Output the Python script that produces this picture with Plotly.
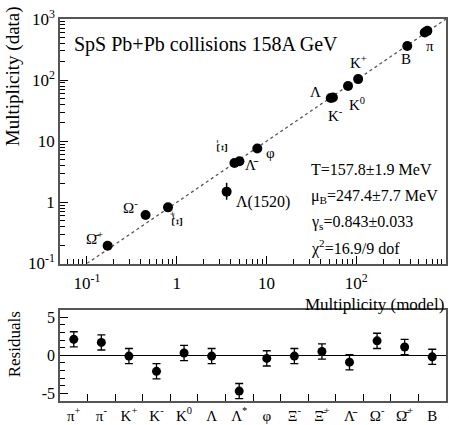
import plotly.graph_objects as go

# ---- data ----
particles = ["π+", "π-", "K+", "K-", "K0", "Λ", "Λ*", "φ", "Ξ-", "Ξbar+", "Λbar", "Ω-", "Ωbar+", "B"]
model = [580, 620, 105, 55, 81, 52, 3.6, 7.9, 4.4, 0.80, 5.0, 0.45, 0.17, 370]
data = [600, 640, 104, 52, 80, 51, 1.5, 7.6, 4.4, 0.83, 4.7, 0.62, 0.195, 362]
data_err_up = [0, 0, 0, 0, 0, 0, 0.6, 0, 0, 0, 0, 0, 0, 0]
data_err_dn = [0, 0, 0, 0, 0, 0, 0.4, 0, 0, 0, 0, 0, 0, 0]
diag = [0.1, 1000]

res_labels = ["π<sup>+</sup>", "π<sup>-</sup>", "K<sup>+</sup>", "K<sup>-</sup>", "K<sup>0</sup>", "Λ",
              "Λ<sup>*</sup>", "φ", "Ξ<sup>-</sup>", "Ξ\u0304<sup>+</sup>", "Λ\u0304", "Ω<sup>-</sup>",
              "Ω\u0304<sup>+</sup>", "B"]
residuals = [2.1, 1.7, -0.1, -2.1, 0.3, -0.1, -4.7, -0.4, -0.1, 0.5, -0.9, 1.9, 1.1, -0.2]
res_err = [1.0] * 14

W, H = 449, 425
ML, MR, MT, MB = 60, 1, 19, 17
PW, PH = W - ML - MR, H - MT - MB

def px(x, y):
    return (x - ML) / PW, (H - MB - y) / PH

FONT = "Liberation Serif, Times New Roman, DejaVu Serif, serif"
FRAME = "#555555"

fig = go.Figure()
fig.add_trace(go.Scatter(x=diag, y=diag, mode="lines",
                         line=dict(color="#555555", width=1.3, dash="3px,3px"),
                         xaxis="x", yaxis="y", hoverinfo="skip"))
fig.add_trace(go.Scatter(x=model, y=data, mode="markers",
                         marker=dict(color="black", size=10),
                         error_y=dict(type="data", array=data_err_up, arrayminus=data_err_dn,
                                      color="black", thickness=1.5, width=0),
                         xaxis="x", yaxis="y"))
fig.add_trace(go.Scatter(x=res_labels, y=residuals, mode="markers",
                         marker=dict(color="black", size=9),
                         error_y=dict(type="data", array=res_err, color="black", thickness=1.3, width=4),
                         xaxis="x2", yaxis="y2"))

top_dom = [px(0, 268)[1], 1.0]
bot_dom = [0.0, px(0, 315)[1]]

fig.update_layout(
    width=W, height=H, margin=dict(l=ML, r=MR, t=MT, b=MB),
    paper_bgcolor="white", plot_bgcolor="white", showlegend=False,
    font=dict(family=FONT, size=15, color="black"),
    xaxis=dict(type="log", range=[-1.3, 3.0], domain=[0, 1], anchor="y",
               tickvals=[0.1, 1, 10, 100], ticktext=["10<sup>-1</sup>", "1", "10", "10<sup>2</sup>"],
               ticks="inside", ticklen=8, tickcolor="black", showgrid=False, zeroline=False,
               showline=True, linecolor=FRAME, linewidth=1.5, mirror=True,
               minor=dict(ticks="inside", ticklen=5, tickcolor="black", dtick="D1", showgrid=False),
               tickfont=dict(size=17, family=FONT), ticklabelstandoff=3),
    yaxis=dict(type="log", range=[-1, 3], domain=top_dom, anchor="x",
               tickvals=[0.1, 1, 10, 100, 1000],
               ticktext=["10<sup>-1</sup>", "1", "10", "10<sup>2</sup>", "10<sup>3</sup>"],
               ticks="inside", ticklen=8, tickcolor="black", showgrid=False, zeroline=False,
               showline=True, linecolor=FRAME, linewidth=1.5, mirror=True,
               minor=dict(ticks="inside", ticklen=5, tickcolor="black", dtick="D1", showgrid=False),
               tickfont=dict(size=17, family=FONT)),
    xaxis2=dict(type="category", range=[-0.5, 13.5], domain=[0, 1], anchor="y2",
                tickson="boundaries", ticks="inside", ticklen=7, tickcolor="black",
                showgrid=False, zeroline=False, showline=True, linecolor=FRAME, linewidth=1.5,
                mirror=True, tickfont=dict(size=15, family=FONT)),
    yaxis2=dict(range=[-6, 6], domain=bot_dom, anchor="x2",
                tickvals=[-5, 0, 5], ticktext=["-5", "0", "5"],
                ticks="inside", ticklen=8, tickcolor="black", showgrid=False,
                zeroline=True, zerolinecolor="black", zerolinewidth=1.3,
                showline=True, linecolor=FRAME, linewidth=1.5, mirror=True,
                minor=dict(ticks="inside", ticklen=5, tickcolor="black", dtick=1, showgrid=False),
                tickfont=dict(size=16, family=FONT)),
)

def ann(text, x, y, size=15, angle=0, xanchor="center"):
    xp, yp = px(x, y)
    fig.add_annotation(text=text, x=xp, y=yp, xref="paper", yref="paper", showarrow=False,
                       font=dict(size=size, family=FONT, color="black"), textangle=angle,
                       xanchor=xanchor, yanchor="middle")

ann("SpS Pb+Pb collisions 158A GeV", 72, 45, size=20, xanchor="left")
ann("T=157.8±1.9 MeV", 310, 172, size=16, xanchor="left")
ann("μ<sub>B</sub>=247.4±7.7 MeV", 310, 200, size=16, xanchor="left")
ann("γ<sub>s</sub>=0.843±0.033", 310, 226, size=16, xanchor="left")
ann("χ<sup>2</sup>=16.9/9 dof", 310, 252, size=16, xanchor="left")

ann("π", 432, 47)
ann("B", 408, 60)
ann("K<sup>+</sup>", 360, 63)
ann("Λ", 317, 93)
ann("K<sup>0</sup>", 359, 106)
ann("K<sup>-</sup>", 337, 117)
ann("Ξ<sup>-</sup>", 221, 148, angle=-90)
ann("Λ\u0304", 253, 168)
ann("φ", 272, 155)
ann("Λ(1520)", 264, 205, size=16)
ann("Ω<sup>-</sup>", 131, 210)
ann("Ω\u0304<sup>+</sup>", 95, 242)
ann("Ξ\u0304<sup>+</sup>", 177, 222, angle=-90)

ann("Multiplicity (model)", 448, 310, size=17, xanchor="right")
ann("Multiplicity (data)", 13, 77, size=19, angle=-90)
ann("Residuals", 14, 350, size=17, angle=-90)

fig.write_html("out.html", config={"displayModeBar": False},
               post_script="document.body.style.margin='0';document.body.style.overflow='hidden';")
